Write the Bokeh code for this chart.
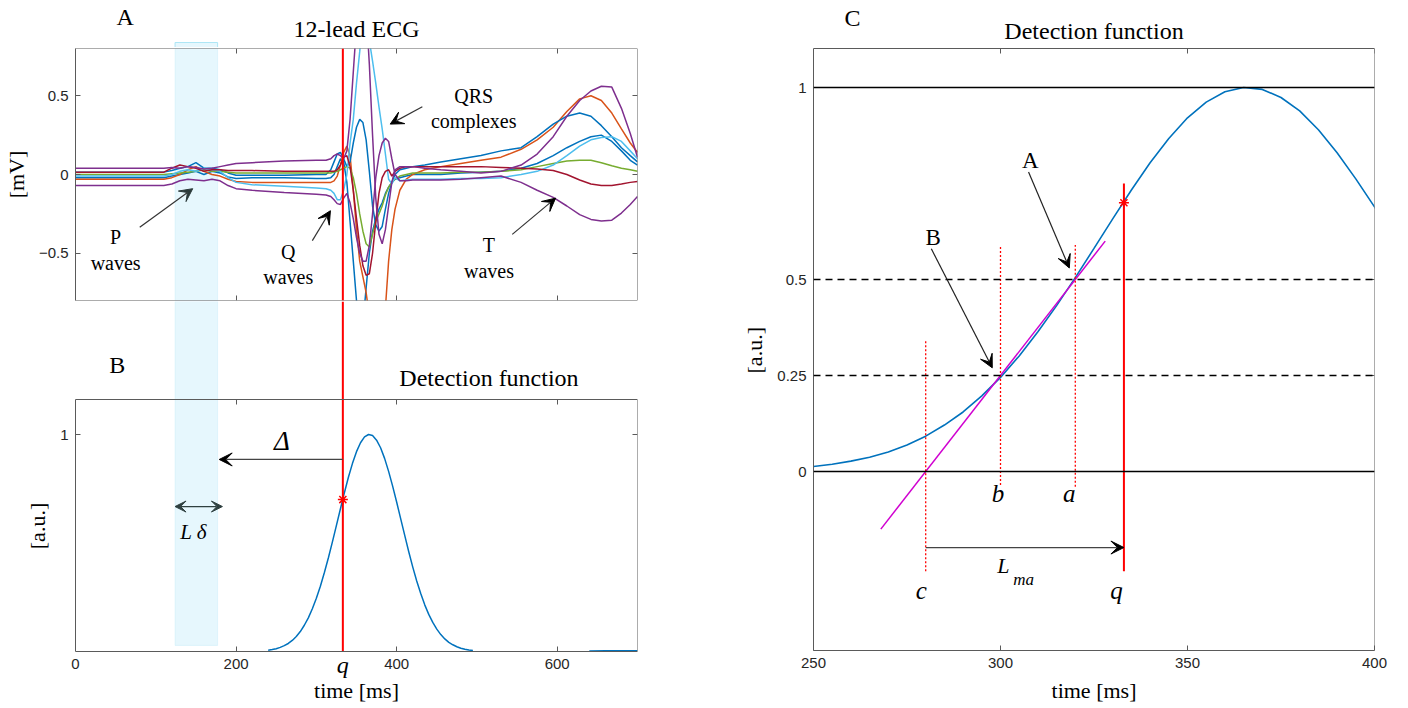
from bokeh.plotting import figure
from bokeh.models import Range1d, LinearAxis, FixedTicker, BoxAnnotation, Span, Arrow, VeeHead
from bokeh.layouts import row, column
from bokeh.embed import file_html
from bokeh.resources import INLINE
from bokeh.core.properties import value

# ---------------- data ----------------
ecg_time = [0, 60, 110, 120, 130, 140, 150, 160, 170, 180, 190, 200, 220, 260, 300, 312, 318, 322, 326, 330,
            334, 338, 342, 346, 350, 354, 358, 362, 366, 370, 374, 378, 382, 386, 390, 394, 398, 404, 412, 420,
            435, 455, 480, 505, 530, 555, 575, 595, 612, 628, 642, 655, 668, 680, 691, 700]
ecg_purple_top = [0.04, 0.04, 0.04, 0.045, 0.04, 0.05, 0.045, 0.035, 0.04, 0.05, 0.06, 0.07, 0.075, 0.085, 0.09, 0.09, 0.10, 0.12, 0.13, 0.12,
                  0.10, 0.15, 0.35, 0.65, 0.95, 1.2, 1.25, 1.05, 0.7, 0.25, -0.15, -0.38, -0.44, -0.35, -0.2, -0.05, 0.03, 0.05, 0.05, 0.05,
                  0.04, 0.03, 0.02, 0.01, 0.02, 0.06, 0.13, 0.24, 0.37, 0.47, 0.53, 0.56, 0.555, 0.42, 0.26, 0.11]
ecg_purple_bottom = [-0.07, -0.07, -0.07, -0.06, -0.04, -0.03, -0.035, -0.04, -0.03, -0.04, -0.07, -0.09, -0.10, -0.115, -0.125, -0.13, -0.14, -0.16, -0.185, -0.19,
                     -0.15, -0.12, -0.18, -0.28, -0.40, -0.50, -0.55, -0.55, -0.45, -0.25, -0.02, 0.12, 0.20, 0.23, 0.21, 0.10, 0.0, -0.04, -0.04, -0.035,
                     -0.035, -0.035, -0.03, -0.02, -0.01, -0.05, -0.10, -0.145, -0.20, -0.255, -0.285, -0.295, -0.29, -0.245, -0.19, -0.14]
ecg_blue_high = [0.015, 0.015, 0.015, 0.025, 0.04, 0.05, 0.075, 0.04, 0.04, 0.03, 0.01, -0.005, -0.005, -0.005, 0.0, 0.0, 0.03, 0.08, 0.13, 0.14,
                 0.10, 0.05, 0.08, 0.2, 0.3, 0.35, 0.33, 0.22, 0.02, -0.2, -0.32, -0.36, -0.33, -0.22, -0.12, -0.05, 0.0, 0.03, 0.04, 0.05,
                 0.06, 0.08, 0.10, 0.12, 0.15, 0.17, 0.24, 0.32, 0.37, 0.39, 0.37, 0.31, 0.24, 0.17, 0.12, 0.08]
ecg_blue_low = [-0.02, -0.02, -0.02, -0.01, 0.0, 0.01, 0.02, 0.0, 0.02, 0.01, -0.015, -0.025, -0.02, -0.02, -0.025, -0.025, -0.02, 0.0, 0.05, 0.1,
                0.08, -0.05, -0.3, -0.55, -0.8, -1.0, -0.95, -0.72, -0.5, -0.36, -0.28, -0.22, -0.18, -0.12, -0.08, -0.05, -0.03, -0.02, -0.01, 0.0,
                0.0, 0.0, 0.01, 0.015, 0.02, 0.04, 0.07, 0.12, 0.17, 0.21, 0.24, 0.25, 0.21, 0.15, 0.09, 0.06]
ecg_orange = [-0.03, -0.03, -0.03, -0.02, 0.0, 0.03, 0.05, 0.02, 0.0, -0.01, -0.03, -0.045, -0.05, -0.05, -0.05, -0.05, -0.05, -0.04, -0.01, 0.06,
              0.14, 0.18, 0.12, -0.1, -0.35, -0.55, -0.65, -0.75, -0.9, -1.05, -1.1, -1.05, -0.95, -0.85, -0.55, -0.35, -0.22, -0.1, -0.03, 0.0,
              0.03, 0.05, 0.07, 0.09, 0.11, 0.16, 0.22, 0.30, 0.40, 0.48, 0.50, 0.47, 0.39, 0.29, 0.2, 0.14]
ecg_green = [0.0, 0.0, 0.0, 0.005, 0.01, 0.015, 0.02, 0.03, 0.02, 0.02, 0.015, 0.01, 0.01, 0.01, 0.01, 0.01, 0.01, 0.015, 0.02, 0.03,
             0.04, 0.05, 0.04, -0.02, -0.12, -0.25, -0.36, -0.44, -0.46, -0.38, -0.3, -0.25, -0.2, -0.13, -0.08, -0.05, -0.03, -0.01, 0.0, 0.01,
             0.01, 0.01, 0.015, 0.015, 0.02, 0.03, 0.05, 0.07, 0.085, 0.09, 0.09, 0.075, 0.055, 0.04, 0.03, 0.02]
ecg_light_blue = [-0.01, -0.01, -0.01, 0.0, 0.02, 0.03, 0.02, 0.04, 0.03, 0.02, -0.02, -0.05, -0.065, -0.075, -0.085, -0.09, -0.1, -0.12, -0.16, -0.16,
                  -0.1, 0.0, 0.2, 0.35, 0.58, 0.78, 1.0, 1.05, 0.85, 0.72, 0.58, 0.43, 0.29, 0.13, -0.03, -0.06, -0.02, -0.04, -0.035, -0.03,
                  -0.03, -0.03, -0.025, -0.025, -0.02, 0.0, 0.02, 0.06, 0.12, 0.18, 0.22, 0.235, 0.24, 0.21, 0.15, 0.1]
ecg_dark_red = [0.015, 0.015, 0.015, 0.04, 0.06, 0.05, 0.04, 0.02, 0.03, 0.03, 0.025, 0.025, 0.025, 0.02, 0.02, 0.02, 0.02, 0.02, 0.03, 0.06,
                0.11, 0.12, 0.05, -0.1, -0.28, -0.45, -0.58, -0.64, -0.63, -0.5, -0.3, -0.12, -0.02, 0.02, 0.03, -0.01, 0.02, 0.04, 0.05, 0.05,
                0.05, 0.05, 0.05, 0.05, 0.045, 0.04, 0.035, 0.025, 0.0, -0.035, -0.06, -0.07, -0.07, -0.06, -0.05, -0.045]

det_time = [240, 245, 250, 255, 260, 265, 270, 275, 280, 285, 290, 295, 300, 305, 310, 315, 320, 325, 330, 335,
            340, 345, 350, 355, 360, 365, 370, 375, 380, 385, 390, 395, 400, 405, 410, 415, 420, 425, 430, 435,
            440, 445, 450, 455, 460, 465, 470, 475, 480, 485, 490, 495]
det_value = [0.006, 0.009, 0.013, 0.019, 0.027, 0.037, 0.051, 0.069, 0.092, 0.121, 0.155, 0.197, 0.245, 0.301, 0.364, 0.432, 0.505, 0.581, 0.658, 0.733,
             0.804, 0.867, 0.921, 0.962, 0.989, 1.0, 0.995, 0.974, 0.939, 0.890, 0.830, 0.762, 0.689, 0.612, 0.536, 0.461, 0.390, 0.325, 0.267, 0.215,
             0.171, 0.134, 0.103, 0.078, 0.058, 0.042, 0.031, 0.022, 0.015, 0.010, 0.007, 0.005]
tail_time = [640, 660, 680, 700]
tail_value = [0.002, 0.004, 0.004, 0.003]

q_time = 333
q_value = 0.70
band_start, band_end = 124, 177
c_time, b_time, a_time = 280, 300, 320
marker_bottom = [-0.26, -0.035, -0.04]
marker_top = [0.34, 0.585, 0.59]
q_line = [-0.26, 0.75]
tangent_time = [268, 328]
tangent_value = [-0.15, 0.60]
level_lines = [0, 1]
threshold_lines = [0.25, 0.5]

ecg_ticks_y = [-0.5, 0, 0.5]
time_ticks = [0, 200, 400, 600]
zoom_ticks_x = [250, 300, 350, 400]
zoom_ticks_y = [0, 0.25, 0.5, 1]

# ---------------- styles ----------------
SERIF = "Liberation Serif"
SANS = "Liberation Sans"
BOX = "#5a5a5a"
BLUE, ORANGE, PURPLE = "#0072BD", "#D95319", "#7E2F8E"
GREEN, LBLUE, DRED = "#77AC30", "#4DBEEE", "#A2142F"
BAND_FILL, BAND_LINE = "#E6F7FD", "#AEE6F5"
NB = "\u00a0"


def make_axis(p, side, ticks, fixed=None, bounds=None, labels=True, label=None):
    ax = LinearAxis(ticker=FixedTicker(ticks=list(ticks)))
    ax.axis_line_color = BOX
    ax.axis_line_width = 1
    ax.major_tick_line_color = BOX
    ax.major_tick_in = 5
    ax.major_tick_out = 0
    ax.minor_tick_line_color = None
    ax.major_label_standoff = 7
    ax.major_label_text_font = SANS
    ax.major_label_text_font_size = "15px"
    ax.major_label_text_color = "#262626"
    ax.axis_label_text_font = SERIF
    ax.axis_label_text_font_size = "22px"
    ax.axis_label_text_font_style = "normal"
    ax.axis_label_text_color = "#000000"
    ax.axis_label_standoff = 7
    if not labels:
        ax.major_label_text_color = None
        ax.major_label_standoff = 0
    if fixed is not None:
        ax.fixed_location = fixed
    if bounds is not None:
        ax.bounds = bounds
    if label is not None:
        ax.axis_label = label
    p.add_layout(ax, side)
    return ax


def txt(p, xs, ys, texts, size="20px", style="normal", align="center", color="#000000"):
    p.text(x=xs, y=ys, text=texts, text_font=value(SERIF), text_font_size=size,
           text_font_style=style, text_align=align, text_baseline="middle",
           text_color=color, text_line_height=1.15)


def arrow(p, x0, y0, x1, y1, color="#000000", line="#333333", size=13, both=False):
    end = VeeHead(size=size, fill_color=color, line_color=color, line_width=1)
    start = VeeHead(size=size, fill_color=color, line_color=color, line_width=1) if both else None
    p.add_layout(Arrow(start=start, end=end, x_start=x0, y_start=y0, x_end=x1, y_end=y1,
                       line_color=line, line_width=1.2))


def base_fig(**kw):
    p = figure(x_axis_location=None, y_axis_location=None, toolbar_location=None,
               output_backend="svg", outline_line_color=None, **kw)
    p.grid.visible = False
    p.background_fill_color = "white"
    p.border_fill_color = "white"
    return p


LEFT_W = 713
BL, BR = 75, LEFT_W - 75 - 562
time_range = Range1d(0, 700)

# ---------------- header above panel A (same frame columns as A) ----------------
hA = base_fig(width=LEFT_W, height=47, x_range=time_range, y_range=Range1d(47, 0),
              min_border_left=BL, min_border_right=BR, min_border_top=0, min_border_bottom=0)
hA.quad(left=[band_start], right=[band_end], bottom=[48], top=[42], fill_color=BAND_FILL,
        line_color=BAND_LINE, line_width=1)
txt(hA, [62], [16], ["A"], size="24px")
txt(hA, [350], [28], ["12-lead ECG"], size="24px")

# ---------------- panel A ----------------
A = base_fig(width=LEFT_W, height=254, x_range=time_range, y_range=Range1d(-0.8, 0.8),
             min_border_left=BL, min_border_right=BR, min_border_top=1, min_border_bottom=1)
make_axis(A, "left", ecg_ticks_y, label="[mV]")
make_axis(A, "right", ecg_ticks_y, fixed=700, labels=False)
make_axis(A, "above", time_ticks, fixed=0.8, labels=False)
make_axis(A, "below", time_ticks, fixed=-0.8, labels=False)
A.add_layout(BoxAnnotation(left=band_start, right=band_end, fill_color=BAND_FILL, fill_alpha=1,
                           line_color=BAND_LINE, line_width=1, level="underlay"))
for vals, col in [(ecg_blue_low, BLUE), (ecg_orange, ORANGE), (ecg_blue_high, BLUE), (ecg_green, GREEN),
                  (ecg_light_blue, LBLUE), (ecg_dark_red, DRED), (ecg_purple_bottom, PURPLE), (ecg_purple_top, PURPLE)]:
    A.line(ecg_time, vals, line_color=col, line_width=1.5)
A.add_layout(Span(location=q_time, dimension="height", line_color="#FF0000", line_width=2))
txt(A, [50], [-0.48], ["P\nwaves"], size="20px")
txt(A, [265], [-0.573], ["Q\nwaves"], size="20px")
txt(A, [496], [0.418], ["QRS\ncomplexes"], size="20px")
txt(A, [515], [-0.53], ["T\nwaves"], size="20px")
arrow(A, 80, -0.335, 146, -0.09, color="#2B3A3A")
arrow(A, 295, -0.42, 317.5, -0.23)
arrow(A, 432, 0.43, 392, 0.32)
arrow(A, 544, -0.38, 598, -0.15)

# ---------------- panel B (frame reaches into the gap above and below the box) ----------------
B_FRAME_BOTTOM = 684
B_TOP = (651 - 301) / 217.0
B_BOX = (651 - 399) / 217.0
B_BOT = -(B_FRAME_BOTTOM - 651) / 217.0
B = base_fig(width=LEFT_W, height=407, x_range=time_range, y_range=Range1d(B_BOT, B_TOP),
             min_border_left=BL, min_border_right=BR, min_border_top=0, min_border_bottom=708 - B_FRAME_BOTTOM)
make_axis(B, "left", [1], bounds=(0, B_BOX), label="[a.u.]" + NB * 12)
make_axis(B, "right", [1], fixed=700, bounds=(0, B_BOX), labels=False)
make_axis(B, "above", time_ticks, fixed=B_BOX, labels=False)
bx = make_axis(B, "below", time_ticks, label="time [ms]")
bx.axis_line_color = None
bx.major_tick_line_color = None
bx.major_label_standoff = -(B_FRAME_BOTTOM - 651) + 7
bx.axis_label_standoff = 6
make_axis(B, "below", time_ticks, fixed=0, labels=False)
B.add_layout(BoxAnnotation(left=band_start, right=band_end, bottom=0.028, fill_color=BAND_FILL, fill_alpha=1,
                           line_color=BAND_LINE, line_width=1, level="underlay"))
B.line(det_time, det_value, line_color=BLUE, line_width=1.5)
B.line(tail_time, tail_value, line_color=BLUE, line_width=1.5)
B.segment(x0=[q_time], y0=[0], x1=[q_time], y1=[B_TOP], line_color="#FF0000", line_width=2)
B.scatter([q_time], [q_value], marker="asterisk", size=10, line_color="#FF0000", line_width=1.5)
txt(B, [q_time], [-(664 - 651) / 217.0], ["q"], size="24px", style="italic")
txt(B, [52], [1.32], ["B"], size="24px")
txt(B, [515], [1.26], ["Detection function"], size="24px")
arrow(B, q_time, 0.885, band_end + 2, 0.885, line="#444444")
txt(B, [257], [0.97], ["Δ"], size="27px", style="italic")
arrow(B, band_start, 0.668, 183, 0.668, color="#2F4040", line="#2F4040", size=11, both=True)
txt(B, [147], [0.55], ["L δ"], size="21px", style="italic")

# ---------------- panel C ----------------
C_BOT = -(650 - 471) / 384.0
C_TOP = 471 / 384.0
C_BOX = (471 - 48) / 384.0
C = base_fig(width=1408 - LEFT_W, height=708, x_range=Range1d(250, 400), y_range=Range1d(C_BOT, C_TOP),
             min_border_left=813 - LEFT_W, min_border_right=1408 - 1374, min_border_top=0, min_border_bottom=58)
make_axis(C, "left", zoom_ticks_y, bounds=(C_BOT, C_BOX), label="[a.u.]" + NB * 9)
make_axis(C, "right", zoom_ticks_y, fixed=400, bounds=(C_BOT, C_BOX), labels=False)
make_axis(C, "above", zoom_ticks_x, fixed=C_BOX, labels=False)
make_axis(C, "below", zoom_ticks_x, label="time [ms]")
for lv in level_lines:
    C.add_layout(Span(location=lv, dimension="width", line_color="#000000", line_width=1.5))
for th in threshold_lines:
    C.add_layout(Span(location=th, dimension="width", line_color="#000000", line_width=1.3, line_dash="7 5"))
C.line(det_time, det_value, line_color=BLUE, line_width=1.6)
C.line(tangent_time, tangent_value, line_color="#D000D0", line_width=1.5)
C.segment(x0=[c_time, b_time, a_time], y0=marker_bottom, x1=[c_time, b_time, a_time], y1=marker_top,
          line_color="#FF0000", line_width=1.3, line_dash="2 2")
C.segment(x0=[q_time], y0=[q_line[0]], x1=[q_time], y1=[q_line[1]], line_color="#FF0000", line_width=2)
C.scatter([q_time], [q_value], marker="asterisk", size=10, line_color="#FF0000", line_width=1.5)
arrow(C, c_time, -0.198, q_time, -0.198, line="#444444")
arrow(C, 307.5, 0.78, 318.4, 0.53, line="#222222")
arrow(C, 281.5, 0.58, 297.8, 0.27, line="#222222")
txt(C, [260.4], [(471 - 17) / 384.0], ["C"], size="24px")
txt(C, [325], [(471 - 30) / 384.0], ["Detection function"], size="24px")
txt(C, [308], [0.81], ["A"], size="23px")
txt(C, [282], [0.61], ["B"], size="23px")
txt(C, [299.3, 318.4, 278.8, 331.0], [-0.057, -0.057, -0.31, -0.31], ["b", "a", "c", "q"], size="25px", style="italic")
txt(C, [300.8], [-0.245], ["L"], size="22px", style="italic")
txt(C, [306.2], [-0.28], ["ma"], size="17px", style="italic")

layout = row(column(hA, A, B), C)
open("out.html", "w").write(file_html(layout, INLINE))
